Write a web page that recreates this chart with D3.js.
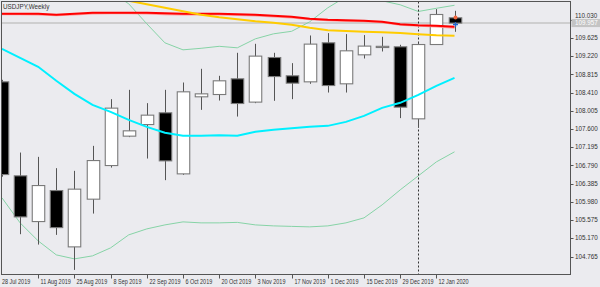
<!DOCTYPE html>
<html><head><meta charset="utf-8">
<script src="https://cdn.jsdelivr.net/npm/d3@7"></script>
<style>html,body{margin:0;padding:0;background:#ebebef;}svg{display:block;}</style>
</head><body>
<svg id="c" width="600" height="287"></svg>
<script>
// ---------- data ----------
const dates = ["2019-07-28","2019-08-04","2019-08-11","2019-08-18","2019-08-25","2019-09-01","2019-09-08","2019-09-15","2019-09-22","2019-09-29","2019-10-06","2019-10-13","2019-10-20","2019-10-27","2019-11-03","2019-11-10","2019-11-17","2019-11-24","2019-12-01","2019-12-08","2019-12-15","2019-12-22","2019-12-29","2020-01-05","2020-01-12","2020-01-19"];
const open  = [108.650,106.559,105.542,106.232,104.979,106.040,106.788,107.442,107.700,107.961,106.603,108.317,108.368,108.717,108.199,109.191,108.784,108.650,109.518,108.606,109.251,109.432,109.429,107.827,109.480,110.074];
const high  = [108.695,107.077,106.981,106.730,106.670,107.226,108.265,108.472,108.176,108.472,108.635,108.940,108.784,109.296,109.496,109.296,109.066,109.681,109.734,109.712,109.690,109.652,109.474,109.525,110.268,110.230];
const low   = [106.540,105.261,105.030,105.246,104.467,105.720,106.743,107.420,106.944,106.463,106.581,108.027,108.234,107.878,108.176,108.228,108.265,108.606,108.412,108.412,109.169,109.325,107.843,107.627,109.480,109.763];
const close = [106.588,105.646,106.343,105.408,106.263,106.899,108.065,107.560,107.909,106.892,108.428,108.383,108.673,108.168,109.222,108.768,108.621,109.489,108.568,109.340,109.445,109.440,108.087,109.480,110.148,109.957];
const maCyan   = [109.385,109.184,108.984,108.673,108.383,108.139,107.983,107.805,107.649,107.516,107.449,107.449,107.460,107.449,107.538,107.582,107.616,107.649,107.671,107.760,107.894,108.072,108.183,108.361,108.561,108.739];
const maRed    = [110.164,110.164,110.164,110.141,110.164,110.186,110.186,110.186,110.186,110.175,110.164,110.164,110.164,110.152,110.141,110.119,110.097,110.052,110.030,110.019,110.008,109.986,109.930,109.908,109.896,109.874];
const maPink   = [110.150,110.150,110.141,110.125,110.141,110.164,110.170,110.170,110.164,110.150,110.141,110.141,110.141,110.130,110.119,110.097,110.075,110.035,110.015,110.000,109.990,109.970,109.915,109.890,109.875,109.850];
const maGold   = [110.998,110.920,110.842,110.764,110.686,110.609,110.531,110.453,110.375,110.297,110.219,110.141,110.086,110.041,109.997,109.963,109.919,109.852,109.796,109.781,109.763,109.752,109.734,109.707,109.685,109.674];
const bandUp   = [111.810,111.699,111.543,111.365,111.143,110.920,110.653,110.386,109.941,109.518,109.362,109.396,109.440,109.407,109.607,109.718,109.774,109.985,110.297,110.542,110.609,110.453,110.364,110.215,110.286,110.353];
const bandLow  = [106.069,105.513,105.112,104.801,104.712,104.779,104.957,105.246,105.379,105.468,105.535,105.513,105.513,105.524,105.468,105.446,105.435,105.424,105.446,105.513,105.624,105.913,106.247,106.559,106.870,107.093];
const priceTicks = [110.030,109.625,109.220,108.815,108.410,108.005,107.600,107.195,106.790,106.385,105.980,105.575,105.170,104.765];
const dateTickIdx = [0,2,4,6,8,10,12,14,16,18,20,22,24];
const dateTickLabels = ["28 Jul 2019","11 Aug 2019","25 Aug 2019","8 Sep 2019","22 Sep 2019","6 Oct 2019","20 Oct 2019","3 Nov 2019","17 Nov 2019","1 Dec 2019","15 Dec 2019","29 Dec 2019","12 Jan 2020"];
const separatorIdx = 23;
const markPrices = [110.082, 109.925];
const title = "USDJPY,Weekly";

// ---------- layout ----------
const svg = d3.select("#c");
const L = 1.5, R = 570.5, T = 1.5, B = 274.5;
const FONT = "'Liberation Sans', Arial, sans-serif";
const x = d3.scaleLinear().domain([0, dates.length - 1]).range([2, 454.5]);
const y = d3.scaleLinear().domain([104.765, 110.030]).range([256.5, 19.8]);

svg.append("rect").attr("width",600).attr("height",287).attr("fill","#ebebef");
svg.append("defs").append("clipPath").attr("id","clip")
  .append("rect").attr("x",L).attr("y",T).attr("width",R-L).attr("height",B-T);
const plot = svg.append("g").attr("clip-path","url(#clip)");

const cp = close[close.length-1];
// current price line
plot.append("line").attr("x1",L).attr("x2",R).attr("y1",y(cp)).attr("y2",y(cp))
  .attr("stroke","#c4c4c4").attr("stroke-width",1.5);

const idx = d3.range(dates.length);
const lineOf = arr => d3.line().x((d,i)=>x(i)).y(d=>y(d))(arr);

// bands
plot.append("path").attr("d",lineOf(bandUp)).attr("fill","none").attr("stroke","#86d3a6").attr("stroke-width",1);
plot.append("path").attr("d",lineOf(bandLow)).attr("fill","none").attr("stroke","#86d3a6").attr("stroke-width",1);

// separator
plot.append("line").attr("x1",Math.round(x(separatorIdx))+0.5).attr("x2",Math.round(x(separatorIdx))+0.5).attr("y1",T).attr("y2",B)
  .attr("stroke","#333").attr("stroke-width",1).attr("stroke-dasharray","2,2");

// candles
const bw = 12.5;
const cg = plot.append("g");
cg.selectAll("line.w").data(idx).join("line")
  .attr("x1",i=>Math.round(x(i))+0.5).attr("x2",i=>Math.round(x(i))+0.5)
  .attr("y1",i=>y(high[i])).attr("y2",i=>y(low[i]))
  .attr("stroke","#555").attr("stroke-width",1);
cg.selectAll("rect.b").data(idx).join("rect")
  .attr("x",i=>Math.round(x(i))+0.5-bw/2)
  .attr("y",i=>y(Math.max(open[i],close[i])))
  .attr("width",bw)
  .attr("height",i=>Math.max(1.2, Math.abs(y(open[i])-y(close[i]))))
  .attr("fill",i=>close[i]>=open[i]?"#ffffff":"#000000")
  .attr("stroke","#7a7a7a").attr("stroke-width",1.1);

// moving averages
plot.append("path").attr("d",lineOf(maPink)).attr("fill","none").attr("stroke","#ff9a9a").attr("stroke-width",1.5);
plot.append("path").attr("d",lineOf(maRed)).attr("fill","none").attr("stroke","#ff0000").attr("stroke-width",2);
plot.append("path").attr("d",lineOf(maGold)).attr("fill","none").attr("stroke","#ffcc00").attr("stroke-width",2);
plot.append("path").attr("d",lineOf(maCyan)).attr("fill","none").attr("stroke","#00f0ff").attr("stroke-width",2);

// markers on last bar
const lx = Math.round(x(dates.length-1))+0.5;
plot.append("circle").attr("cx",lx).attr("cy",y(markPrices[0])).attr("r",2).attr("fill","#f0643c");
plot.append("path").attr("d",`M${lx-2.5},${y(markPrices[1])}H${lx+2.5}M${lx},${y(markPrices[1])-2.5}V${y(markPrices[1])+2.5}`)
  .attr("stroke","#2068d0").attr("stroke-width",1.3);

// frame
svg.append("rect").attr("x",L).attr("y",T).attr("width",R-L).attr("height",B-T)
  .attr("fill","none").attr("stroke","#555").attr("stroke-width",1);

// y axis
const ya = svg.append("g");
priceTicks.forEach((p,k)=>{
  ya.append("line").attr("x1",R).attr("x2",R+3).attr("y1",Math.round(y(p))+0.5).attr("y2",Math.round(y(p))+0.5).attr("stroke","#555");
  const ty = k===0 ? y(cp)-5 : y(p)+2.2;
  ya.append("text").attr("x",R+4.5).attr("y",ty).text(d3.format(".3f")(p))
    .attr("font-family",FONT).attr("font-size",6.3).attr("fill","#333");
});
// current price tag
svg.append("rect").attr("x",R+1).attr("y",y(cp)-4).attr("width",29).attr("height",8).attr("fill","#c4c4c4");
svg.append("text").attr("x",R+4.5).attr("y",y(cp)+2.2).text(d3.format(".3f")(cp))
  .attr("font-family",FONT).attr("font-size",6.3).attr("fill","#ffffff");

// x axis
const xa = svg.append("g");
dateTickIdx.forEach((k,j)=>{
  const xx = Math.round(x(k))+0.5;
  if (j>0) xa.append("line").attr("x1",xx).attr("x2",xx).attr("y1",B).attr("y2",B+4).attr("stroke","#555");
  const t = xa.append("text").attr("x",j===0?2:xx+2).attr("y",284).text(dateTickLabels[j])
    .attr("font-family",FONT).attr("font-size",6.5).attr("fill","#333");
  const w = t.node().getComputedTextLength();
  t.attr("textLength", (w*0.84).toFixed(2)).attr("lengthAdjust","spacingAndGlyphs");
});

// title
svg.append("text").attr("x",3).attr("y",9).text(title)
  .attr("font-family",FONT).attr("font-size",6.3).attr("fill","#333");
</script>
</body></html>
